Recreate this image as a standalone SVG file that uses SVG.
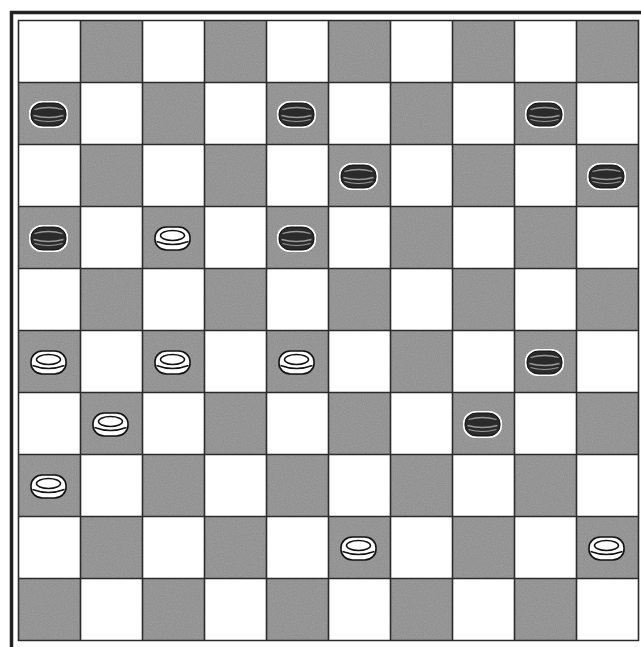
<svg xmlns="http://www.w3.org/2000/svg" width="641" height="647" viewBox="0 0 641 647">
<style>
.dk{fill:#8e8e8e}
.grid{stroke:#2a2a2a;stroke-width:1.6;fill:none}
.frame{stroke:#222;stroke-width:3.5;fill:none}
</style>
<defs>
<filter id="noise" x="0" y="0" width="100%" height="100%">
<feTurbulence type="fractalNoise" baseFrequency="0.9" numOctaves="2" seed="3" result="t"/>
<feColorMatrix in="t" type="matrix" values="0 0 0 0 0.35  0 0 0 0 0.35  0 0 0 0 0.35  0 0 0 -1.2 1" result="n"/>
<feComposite in="n" in2="SourceGraphic" operator="in" result="m"/>
<feMerge><feMergeNode in="SourceGraphic"/><feMergeNode in="m"/></feMerge>
</filter>
<g id="bp">
<rect x="-19.5" y="-13.5" width="39" height="27" rx="13" ry="12" fill="#fff"/>
<rect x="-17.5" y="-11.5" width="35" height="23" rx="11.5" ry="10.5" fill="#2b2b2b" stroke="#111" stroke-width="1"/>
<path d="M-14,-5 Q0,-9 14,-5" stroke="#9a9a9a" stroke-width="1.3" fill="none"/>
<path d="M-15,1 Q0,5 15,1" stroke="#9a9a9a" stroke-width="1.3" fill="none"/>
<path d="M-14,5 Q0,9 14,5" stroke="#9a9a9a" stroke-width="1.1" fill="none"/>
</g>
<g id="wp">
<rect x="-17.5" y="-11.5" width="35" height="23" rx="11.5" ry="10.5" fill="#fff" stroke="#111" stroke-width="1.6"/>
<ellipse cx="0" cy="-3" rx="12" ry="5" fill="#fff" stroke="#111" stroke-width="1.5"/>
<path d="M-16,3 Q0,9 16,3" stroke="#111" stroke-width="1.4" fill="none"/>
</g>
</defs>
<rect width="641" height="647" fill="#fff"/>
<g id="board">
<path class="frame" d="M11.5,647 V12.5 H641"/>
<rect x="18.5" y="20.5" width="620" height="620" fill="#fff"/>
<g filter="url(#noise)">
<rect class="dk" x="80.5" y="20.5" width="62" height="62"/><rect class="dk" x="204.5" y="20.5" width="62" height="62"/><rect class="dk" x="328.5" y="20.5" width="62" height="62"/><rect class="dk" x="452.5" y="20.5" width="62" height="62"/><rect class="dk" x="576.5" y="20.5" width="62" height="62"/>
<rect class="dk" x="18.5" y="82.5" width="62" height="62"/><rect class="dk" x="142.5" y="82.5" width="62" height="62"/><rect class="dk" x="266.5" y="82.5" width="62" height="62"/><rect class="dk" x="390.5" y="82.5" width="62" height="62"/><rect class="dk" x="514.5" y="82.5" width="62" height="62"/>
<rect class="dk" x="80.5" y="144.5" width="62" height="62"/><rect class="dk" x="204.5" y="144.5" width="62" height="62"/><rect class="dk" x="328.5" y="144.5" width="62" height="62"/><rect class="dk" x="452.5" y="144.5" width="62" height="62"/><rect class="dk" x="576.5" y="144.5" width="62" height="62"/>
<rect class="dk" x="18.5" y="206.5" width="62" height="62"/><rect class="dk" x="142.5" y="206.5" width="62" height="62"/><rect class="dk" x="266.5" y="206.5" width="62" height="62"/><rect class="dk" x="390.5" y="206.5" width="62" height="62"/><rect class="dk" x="514.5" y="206.5" width="62" height="62"/>
<rect class="dk" x="80.5" y="268.5" width="62" height="62"/><rect class="dk" x="204.5" y="268.5" width="62" height="62"/><rect class="dk" x="328.5" y="268.5" width="62" height="62"/><rect class="dk" x="452.5" y="268.5" width="62" height="62"/><rect class="dk" x="576.5" y="268.5" width="62" height="62"/>
<rect class="dk" x="18.5" y="330.5" width="62" height="62"/><rect class="dk" x="142.5" y="330.5" width="62" height="62"/><rect class="dk" x="266.5" y="330.5" width="62" height="62"/><rect class="dk" x="390.5" y="330.5" width="62" height="62"/><rect class="dk" x="514.5" y="330.5" width="62" height="62"/>
<rect class="dk" x="80.5" y="392.5" width="62" height="62"/><rect class="dk" x="204.5" y="392.5" width="62" height="62"/><rect class="dk" x="328.5" y="392.5" width="62" height="62"/><rect class="dk" x="452.5" y="392.5" width="62" height="62"/><rect class="dk" x="576.5" y="392.5" width="62" height="62"/>
<rect class="dk" x="18.5" y="454.5" width="62" height="62"/><rect class="dk" x="142.5" y="454.5" width="62" height="62"/><rect class="dk" x="266.5" y="454.5" width="62" height="62"/><rect class="dk" x="390.5" y="454.5" width="62" height="62"/><rect class="dk" x="514.5" y="454.5" width="62" height="62"/>
<rect class="dk" x="80.5" y="516.5" width="62" height="62"/><rect class="dk" x="204.5" y="516.5" width="62" height="62"/><rect class="dk" x="328.5" y="516.5" width="62" height="62"/><rect class="dk" x="452.5" y="516.5" width="62" height="62"/><rect class="dk" x="576.5" y="516.5" width="62" height="62"/>
<rect class="dk" x="18.5" y="578.5" width="62" height="62"/><rect class="dk" x="142.5" y="578.5" width="62" height="62"/><rect class="dk" x="266.5" y="578.5" width="62" height="62"/><rect class="dk" x="390.5" y="578.5" width="62" height="62"/><rect class="dk" x="514.5" y="578.5" width="62" height="62"/>
</g>
<path class="grid" d="M18.5,20.5 H638.5 V640.5 H18.5 Z M80.5,20.5 V640.5 M142.5,20.5 V640.5 M204.5,20.5 V640.5 M266.5,20.5 V640.5 M328.5,20.5 V640.5 M390.5,20.5 V640.5 M452.5,20.5 V640.5 M514.5,20.5 V640.5 M576.5,20.5 V640.5 M18.5,82.5 H638.5 M18.5,144.5 H638.5 M18.5,206.5 H638.5 M18.5,268.5 H638.5 M18.5,330.5 H638.5 M18.5,392.5 H638.5 M18.5,454.5 H638.5 M18.5,516.5 H638.5 M18.5,578.5 H638.5"/>
</g>
<g id="black-pieces">
<use href="#bp" x="48.5" y="114.5"/>
<use href="#bp" x="296.5" y="114.5"/>
<use href="#bp" x="544.5" y="114.5"/>
<use href="#bp" x="358.5" y="176.5"/>
<use href="#bp" x="606.5" y="176.5"/>
<use href="#bp" x="48.5" y="238.5"/>
<use href="#bp" x="296.5" y="238.5"/>
<use href="#bp" x="544.5" y="362.5"/>
<use href="#bp" x="482.5" y="424.5"/>
</g>
<g id="white-pieces">
<use href="#wp" x="172.5" y="238.5"/>
<use href="#wp" x="48.5" y="362.5"/>
<use href="#wp" x="172.5" y="362.5"/>
<use href="#wp" x="296.5" y="362.5"/>
<use href="#wp" x="110.5" y="424.5"/>
<use href="#wp" x="48.5" y="486.5"/>
<use href="#wp" x="358.5" y="548.5"/>
<use href="#wp" x="606.5" y="548.5"/>
</g>
</svg>
